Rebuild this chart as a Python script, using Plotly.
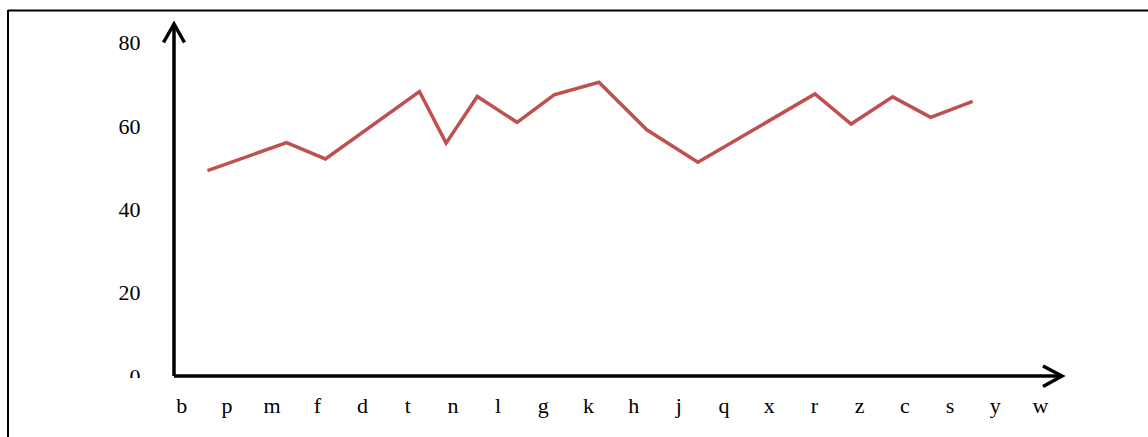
import plotly.graph_objects as go

# Category labels along the horizontal axis
categories = ["b", "p", "m", "f", "d", "t", "n", "l", "g", "k",
              "h", "j", "q", "x", "r", "z", "c", "s", "y", "w"]

# Series: horizontal position (in category units) and value of each vertex
series_pos = [0.57, 2.32, 3.18, 5.26, 5.85, 6.54, 7.42, 8.24, 9.23,
              10.29, 11.42, 14.01, 14.81, 15.73, 16.57, 17.50]
series_val = [49.3, 56.0, 52.1, 68.3, 55.9, 67.1, 60.9, 67.5, 70.5,
              59.1, 51.3, 67.7, 60.5, 67.0, 62.1, 65.9]

y_ticks = [0, 20, 40, 60, 80]

# Canvas and plot-area geometry (pixels)
W, H = 1148, 437
L, R, T, B = 174, 84, 24, 61
PW, PH = W - L - R, H - T - B

X_RANGE = [-0.17, 19.52]
Y_RANGE = [0, 84.5]

FONT = "Liberation Serif, Times New Roman, serif"
RED = "#C0504D"


def px(x):
    return (x - L) / PW


def py(y):
    return (H - B - y) / PH


fig = go.Figure()
fig.add_trace(go.Scatter(
    x=series_pos, y=series_val, mode="lines",
    line=dict(color=RED, width=3.5),
    hoverinfo="skip", showlegend=False,
))

shapes = []
axis_line = dict(color="black", width=3.5)
# vertical axis with open arrow head
shapes.append(dict(type="line", xref="paper", yref="paper",
                   x0=px(174), y0=py(376), x1=px(174), y1=py(25), line=axis_line))
shapes.append(dict(type="path", xref="paper", yref="paper",
                   path=f"M {px(163.5)},{py(42.5)} L {px(174)},{py(24)} L {px(184.5)},{py(42.5)}",
                   line=axis_line))
# horizontal axis with open arrow head
shapes.append(dict(type="line", xref="paper", yref="paper",
                   x0=px(174), y0=py(376), x1=px(1061), y1=py(376), line=axis_line))
shapes.append(dict(type="path", xref="paper", yref="paper",
                   path=f"M {px(1043)},{py(366)} L {px(1062)},{py(376)} L {px(1043)},{py(386.5)}",
                   line=axis_line))
# frame edges
frame = dict(color="black", width=2)
shapes.append(dict(type="line", xref="paper", yref="paper",
                   x0=px(8), y0=py(10.5), x1=px(1148), y1=py(10.5), line=frame))
shapes.append(dict(type="line", xref="paper", yref="paper",
                   x0=px(8), y0=py(10), x1=px(8), y1=py(437), line=frame))
# the lowest value label is cut off at the baseline
shapes.append(dict(type="rect", xref="paper", yref="paper",
                   x0=px(100), y0=py(378), x1=px(160), y1=py(395),
                   fillcolor="white", line=dict(width=0), layer="above"))

fig.update_layout(
    width=W, height=H,
    margin=dict(l=L, r=R, t=T, b=B, pad=0),
    paper_bgcolor="white", plot_bgcolor="white",
    font=dict(family=FONT, size=22, color="black"),
    shapes=shapes,
    xaxis=dict(
        range=X_RANGE, tickmode="array",
        tickvals=list(range(len(categories))), ticktext=categories,
        showgrid=False, zeroline=False, showline=False,
        ticks="outside", ticklen=10, tickcolor="rgba(0,0,0,0)",
        tickfont=dict(family=FONT, size=22, color="black"),
        fixedrange=True,
    ),
    yaxis=dict(
        range=Y_RANGE, tickmode="array", tickvals=y_ticks,
        ticktext=[str(v) for v in y_ticks],
        showgrid=False, zeroline=False, showline=False,
        ticks="outside", ticklen=28, tickcolor="rgba(0,0,0,0)",
        tickfont=dict(family=FONT, size=22, color="black"),
        fixedrange=True,
    ),
)

fig.write_html("out.html", config={"displayModeBar": False})
